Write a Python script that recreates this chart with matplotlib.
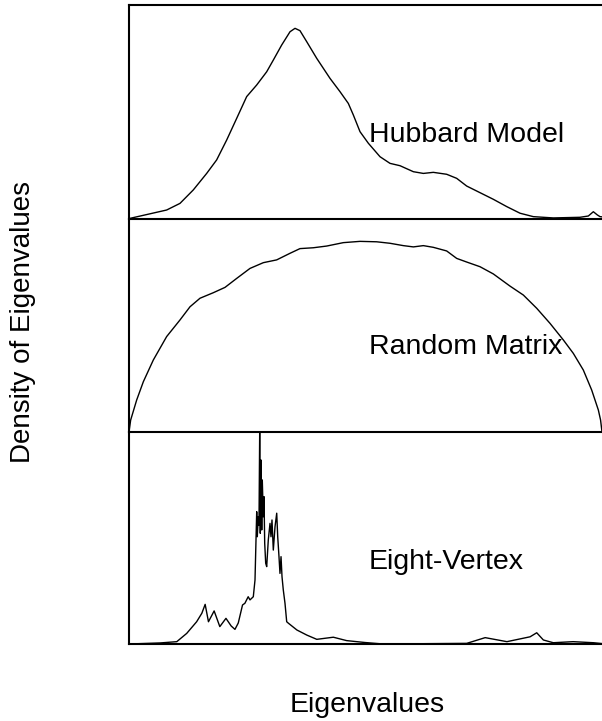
import matplotlib
matplotlib.use("Agg")
import matplotlib.pyplot as plt

plt.rcParams['font.family'] = ['Liberation Sans', 'DejaVu Sans']

# Hubbard model spectrum
hub_x = [0.000, 0.021, 0.796, 1.078, 1.360, 1.642, 1.853, 2.065, 2.276, 2.488, 2.699,
         2.911, 3.052, 3.228, 3.404, 3.510, 3.615, 3.756, 3.968, 4.250, 4.461, 4.637,
         4.743, 4.884, 5.060, 5.307, 5.518, 5.730, 6.012, 6.223, 6.434, 6.716, 6.928,
         7.139, 7.421, 7.703, 7.985, 8.267, 8.548, 8.971, 9.535, 9.711, 9.817, 9.901,
         9.958, 10.0]
hub_y = [0.000, 0.003, 0.042, 0.073, 0.136, 0.213, 0.276, 0.369, 0.470, 0.572, 0.626,
         0.688, 0.743, 0.813, 0.875, 0.891, 0.880, 0.829, 0.751, 0.657, 0.595, 0.540,
         0.486, 0.408, 0.354, 0.291, 0.260, 0.249, 0.221, 0.213, 0.218, 0.209, 0.190,
         0.154, 0.123, 0.092, 0.058, 0.027, 0.011, 0.005, 0.008, 0.014, 0.034, 0.019,
         0.011, 0.010]

# Random matrix spectrum
rm_x = [0.000, 0.035, 0.162, 0.303, 0.514, 0.796, 1.078, 1.290, 1.501, 1.783, 2.030,
        2.276, 2.558, 2.840, 3.122, 3.404, 3.615, 3.897, 4.179, 4.531, 4.884, 5.236,
        5.518, 5.800, 6.012, 6.223, 6.434, 6.716, 6.928, 7.139, 7.421, 7.703, 8.055,
        8.337, 8.619, 8.901, 9.183, 9.394, 9.605, 9.782, 9.923, 9.970, 10.0]
rm_y = [0.000, 0.056, 0.150, 0.236, 0.338, 0.448, 0.526, 0.588, 0.628, 0.654, 0.679,
        0.721, 0.768, 0.795, 0.808, 0.839, 0.861, 0.865, 0.873, 0.889, 0.895, 0.893,
        0.886, 0.875, 0.869, 0.875, 0.867, 0.850, 0.815, 0.798, 0.776, 0.742, 0.685,
        0.643, 0.581, 0.510, 0.432, 0.369, 0.291, 0.197, 0.103, 0.056, 0.000]

# Eight-vertex model spectrum
ev_x = [0.00, 0.66, 1.01, 1.22, 1.43, 1.54, 1.61, 1.68, 1.80, 1.92, 2.05, 2.16, 2.24,
        2.31, 2.40, 2.45, 2.52, 2.558, 2.628, 2.664, 2.685, 2.700, 2.712, 2.733, 2.748,
        2.763, 2.776, 2.791, 2.806, 2.818, 2.839, 2.854, 2.869, 2.890, 2.911, 2.945,
        2.981, 3.002, 3.023, 3.051, 3.087, 3.123, 3.144, 3.171, 3.192, 3.214, 3.235,
        3.262, 3.298, 3.334, 3.37, 3.55, 3.76, 3.97, 4.32, 4.60, 4.99, 5.37, 7.14,
        7.53, 7.99, 8.48, 8.62, 8.76, 8.97, 9.39, 9.82, 10.0]
ev_y = [0.000, 0.005, 0.011, 0.050, 0.105, 0.145, 0.187, 0.105, 0.156, 0.082, 0.121,
        0.085, 0.069, 0.099, 0.184, 0.192, 0.223, 0.208, 0.223, 0.302, 0.491, 0.624,
        0.506, 0.600, 0.560, 1.000, 0.522, 0.868, 0.538, 0.774, 0.600, 0.695, 0.475,
        0.381, 0.365, 0.491, 0.569, 0.506, 0.585, 0.443, 0.553, 0.617, 0.506, 0.412,
        0.333, 0.412, 0.317, 0.255, 0.192, 0.105, 0.098, 0.066, 0.042, 0.022, 0.032,
        0.016, 0.007, 0.000, 0.003, 0.030, 0.011, 0.034, 0.053, 0.019, 0.006, 0.011,
        0.006, 0.002]

panel_labels = ["Hubbard Model", "Random Matrix", "Eight-Vertex"]
label_pos = [(5.07, 0.393), (5.07, 0.40), (5.07, 0.387)]
series = [(hub_x, hub_y), (rm_x, rm_y), (ev_x, ev_y)]

fig = plt.figure(figsize=(6.02, 7.21), dpi=100)
left, right = 129 / 602, 1.0
tops = [1 - 5 / 721, 1 - 219 / 721, 1 - 432 / 721]
bottoms = [1 - 219 / 721, 1 - 432 / 721, 1 - 644 / 721]

spine_w = 1.5
for i, ((xs, ys), lab, (lx, ly)) in enumerate(zip(series, panel_labels, label_pos)):
    ax = fig.add_axes([left, bottoms[i], right - left, tops[i] - bottoms[i]])
    ax.patch.set_visible(False)
    ax.plot(xs, ys, color='black', lw=1.0)
    ax.set_xlim(0, 10)
    ax.set_ylim(0, 1)
    ax.set_xticks([])
    ax.set_yticks([])
    ax.spines['right'].set_visible(False)
    ax.spines['top'].set_visible(i == 0)
    for s in ('left', 'bottom', 'top'):
        ax.spines[s].set_linewidth(spine_w)
    ax.text(lx, ly, lab, fontsize=20.5, ha='left', va='center', color='black')

fig.text(23 / 602, 1 - 322 / 721, "Density of Eigenvalues", rotation=90,
         fontsize=20, ha='center', va='center')
fig.text(367 / 602, 1 - 705 / 721, "Eigenvalues", fontsize=20.5,
         ha='center', va='center')

fig.savefig("out.png", dpi=100)
